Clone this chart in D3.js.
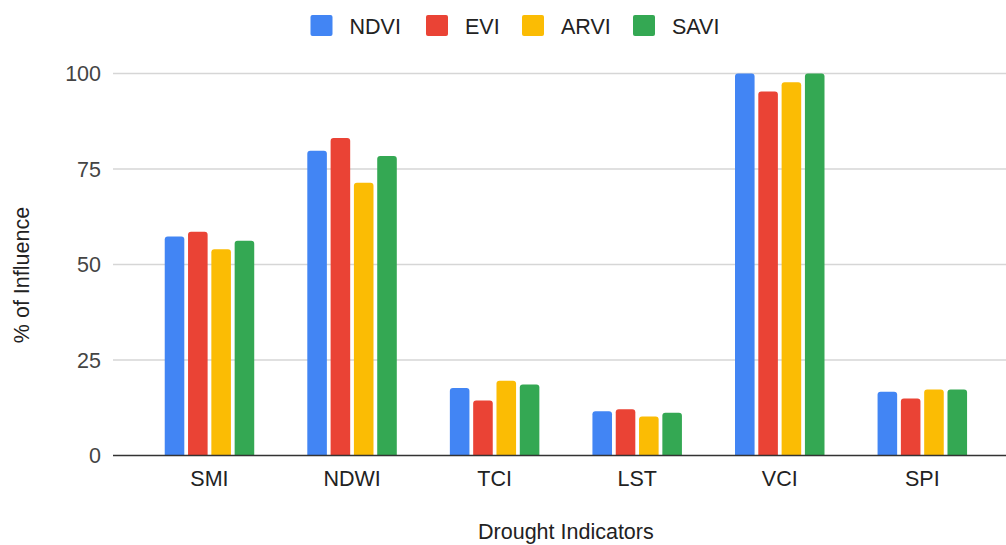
<!DOCTYPE html>
<html>
<head>
<meta charset="utf-8">
<script src="https://cdn.jsdelivr.net/npm/d3@7"></script>
<style>
  html, body { margin: 0; padding: 0; background: #fff; }
  svg { display: block; font-family: "Liberation Sans", Arial, sans-serif; }
</style>
</head>
<body>
<svg id="chart" width="1006" height="545"></svg>
<script>
// Drought indicators and the influence of each vegetation index on them
const categories = ["SMI", "NDWI", "TCI", "LST", "VCI", "SPI"];
const seriesNames = ["NDVI", "EVI", "ARVI", "SAVI"];
const seriesColors = ["#4285F4", "#EA4335", "#FBBC04", "#34A853"];

const ndvi = [57.3, 79.8, 17.7, 11.6, 100, 16.7];
const evi  = [58.6, 83.1, 14.4, 12.1, 95.3, 14.9];
const arvi = [54.0, 71.4, 19.6, 10.2, 97.7, 17.3];
const savi = [56.2, 78.4, 18.6, 11.2, 100, 17.3];

const yTicks = [0, 25, 50, 75, 100];

const seriesValues = [ndvi, evi, arvi, savi];

const svg = d3.select("#chart");
const fontSize = 21.5;

// Plot geometry
const plotLeft = 113, plotRight = 1006;
const y = d3.scaleLinear().domain([0, 100]).range([455.5, 73.5]);
const x0 = d3.scaleBand().domain(categories).range([138.2, 993.6]).paddingInner(0).paddingOuter(0);
const groupWidth = 89.5;
const x1 = d3.scaleBand().domain(seriesNames).range([0, groupWidth]).paddingInner(0.16);

// Gridlines
svg.append("g")
  .selectAll("line")
  .data(yTicks.filter(d => d !== 0))
  .join("line")
  .attr("x1", plotLeft).attr("x2", plotRight)
  .attr("y1", d => y(d)).attr("y2", d => y(d))
  .attr("stroke", "#d6d6d6").attr("stroke-width", 1.5);

// Y tick labels
svg.append("g")
  .selectAll("text")
  .data(yTicks)
  .join("text")
  .attr("x", 101).attr("y", d => y(d))
  .attr("dy", "0.36em")
  .attr("text-anchor", "end")
  .attr("font-size", fontSize)
  .attr("fill", "#444")
  .text(d => d);

// Bars with rounded top corners
function barPath(x, yTop, w, yBase, r) {
  r = Math.min(r, w / 2, (yBase - yTop));
  return `M${x},${yBase}V${yTop + r}Q${x},${yTop} ${x + r},${yTop}H${x + w - r}Q${x + w},${yTop} ${x + w},${yTop + r}V${yBase}Z`;
}

const groups = svg.append("g")
  .selectAll("g")
  .data(categories)
  .join("g")
  .attr("transform", c => `translate(${x0(c) + (x0.bandwidth() - groupWidth) / 2},0)`);

groups.selectAll("path")
  .data((c, i) => seriesNames.map((s, k) => ({ s, k, v: seriesValues[k][i] })))
  .join("path")
  .attr("d", d => barPath(x1(d.s), y(d.v), x1.bandwidth(), y(0), 3))
  .attr("fill", d => seriesColors[d.k]);

// Baseline
svg.append("line")
  .attr("x1", plotLeft).attr("x2", plotRight)
  .attr("y1", y(0)).attr("y2", y(0))
  .attr("stroke", "#333").attr("stroke-width", 1.5);

// Category axis
const xAxis = d3.axisBottom(x0).tickSize(0).tickPadding(0);
const xg = svg.append("g").attr("transform", `translate(0,${y(0)})`).call(xAxis);
xg.select(".domain").remove();
xg.selectAll("text")
  .attr("y", 30.5)
  .attr("dy", 0)
  .attr("font-size", fontSize)
  .attr("font-family", "Liberation Sans, Arial, sans-serif")
  .attr("fill", "#222");

// Axis titles
svg.append("text")
  .attr("x", (x0.range()[0] + x0.range()[1]) / 2)
  .attr("y", 539)
  .attr("text-anchor", "middle")
  .attr("font-size", fontSize)
  .attr("fill", "#222")
  .text("Drought Indicators");

svg.append("text")
  .attr("transform", "translate(29,275) rotate(-90)")
  .attr("text-anchor", "middle")
  .attr("font-size", fontSize)
  .attr("fill", "#222")
  .text("% of Influence");

// Legend
const legendX = [310.5, 426, 522, 633];
const legend = svg.append("g")
  .selectAll("g")
  .data(seriesNames)
  .join("g")
  .attr("transform", (d, i) => `translate(${legendX[i]},15)`);
legend.append("rect")
  .attr("width", 22).attr("height", 21).attr("rx", 2)
  .attr("fill", (d, i) => seriesColors[i]);
legend.append("text")
  .attr("x", 39).attr("y", 18.5)
  .attr("font-size", fontSize)
  .attr("fill", "#222")
  .text(d => d);
</script>
</body>
</html>
